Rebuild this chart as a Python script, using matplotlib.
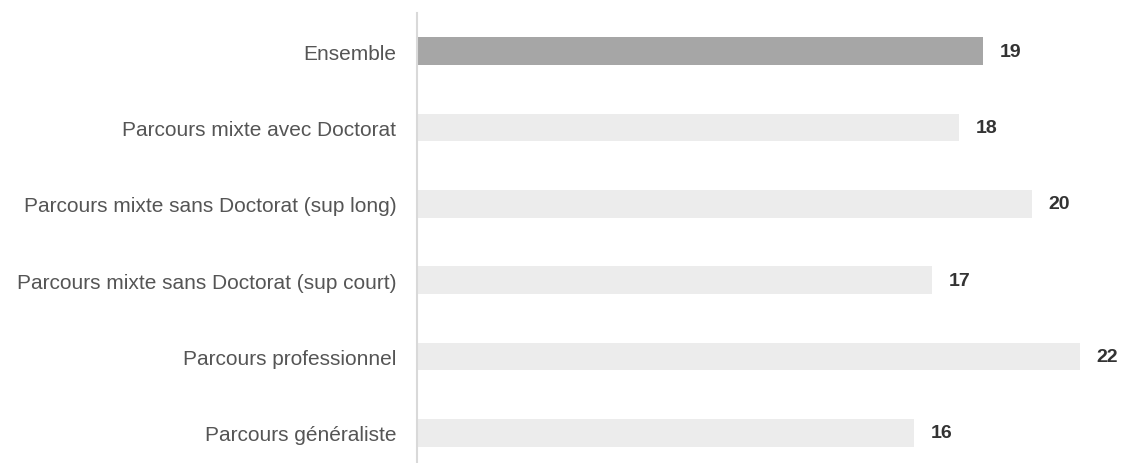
import matplotlib.pyplot as plt

categories = [
    "Ensemble",
    "Parcours mixte avec Doctorat",
    "Parcours mixte sans Doctorat (sup long)",
    "Parcours mixte sans Doctorat (sup court)",
    "Parcours professionnel",
    "Parcours généraliste",
]
values = [18.8, 18.0, 20.4, 17.1, 22.0, 16.5]
labels = ["19", "18", "20", "17", "22", "16"]

plt.rcParams["font.family"] = ["Liberation Sans", "DejaVu Sans"]

fig = plt.figure(figsize=(11.22, 4.64), dpi=100)
ax = fig.add_axes([417 / 1122, -2 / 464, 1 - 417 / 1122, 452 / 464])

colors = ["#a6a6a6"] + ["#ececec"] * (len(values) - 1)
pos = list(range(len(categories)))
ax.barh(pos, values, height=0.36, color=colors)

for p, v, lab in zip(pos, values, labels):
    ax.text(v + 0.55, p, lab, va="center", ha="left",
            fontsize=14, fontweight="bold", color="#333333")

ax.set_yticks(pos)
ax.set_yticklabels(categories, fontsize=15, color="#555555")
ax.tick_params(axis="y", length=0, pad=15)
ax.set_xticks([])
ax.set_xlim(0, 23.4)
ax.set_ylim(5.42, -0.5)

for s in ["top", "right", "bottom"]:
    ax.spines[s].set_visible(False)
ax.spines["left"].set_color("#d9d9d9")
ax.spines["left"].set_linewidth(1.5)

fig.savefig("out.png", dpi=100)
